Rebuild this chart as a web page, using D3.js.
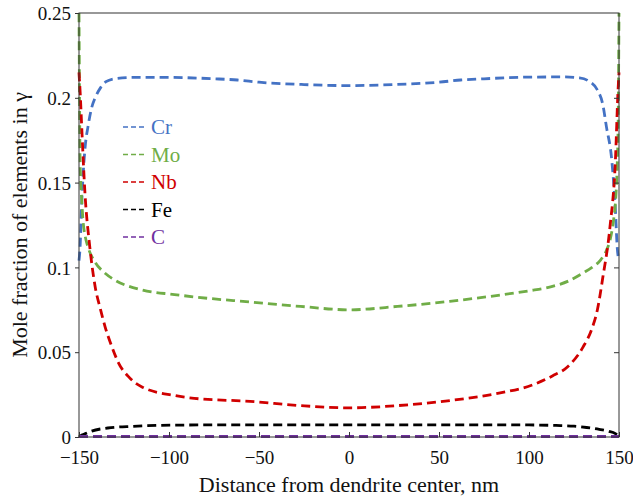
<!DOCTYPE html>
<html>
<head>
<meta charset="utf-8">
<script src="https://cdn.jsdelivr.net/npm/d3@7"></script>
<style>
  body { margin: 0; background: #fff; }
  text { font-family: "Liberation Serif", "Times New Roman", serif; }
</style>
</head>
<body>
<script>
// distance from dendrite center, nm
var crX = [-150, -149.4, -148.5, -147.8, -146.5, -145, -143, -141, -138, -135, -130, -120, -100, -75, -62, -50, -25, 0,
  25, 50, 62, 75, 100, 120, 128, 133, 138, 141, 143, 146, 148, 149, 150];
var crY = [0.104, 0.112, 0.138, 0.153, 0.172, 0.183, 0.194, 0.2, 0.206, 0.2095, 0.2113, 0.212, 0.212, 0.2112, 0.2105, 0.2092, 0.2078, 0.2072,
  0.2078, 0.2092, 0.2105, 0.2112, 0.2122, 0.2123, 0.2118, 0.210, 0.2046, 0.196, 0.183, 0.163, 0.134, 0.112, 0.104];

var moX = [-150, -149.7, -149.4, -148.5, -147.8, -146.5, -145, -141, -136, -130, -115, -97, -86, -55, -27, 0,
  27, 56, 84, 100, 112, 122, 130, 135, 139.5, 143, 145, 147, 148, 149, 149.5, 150];
var moY = [0.25, 0.2, 0.163, 0.14, 0.128, 0.118, 0.112, 0.103, 0.097, 0.0925, 0.0867, 0.084, 0.0826, 0.0796, 0.077, 0.075,
  0.077, 0.080, 0.0837, 0.0862, 0.0885, 0.092, 0.0967, 0.1, 0.104, 0.11, 0.116, 0.128, 0.138, 0.16, 0.183, 0.25];

var nbX = [-150, -149.3, -148.5, -146.7, -144, -141, -138, -135.5, -132, -128, -122, -115, -97, -86, -55, -27, 0,
  27, 56, 84, 102, 113, 121, 130, 135, 138, 141, 145, 148, 149.5, 150];
var nbY = [0.215, 0.202, 0.183, 0.144, 0.112, 0.0885, 0.075, 0.065, 0.054, 0.0436, 0.035, 0.0295, 0.0245, 0.0228, 0.021, 0.0185, 0.0172,
  0.0185, 0.0215, 0.026, 0.0307, 0.036, 0.041, 0.053, 0.064, 0.075, 0.094, 0.124, 0.163, 0.205, 0.215];

var feX = [-150, -149, -147, -143, -134, -120, -97, -50, 0, 50, 100, 115, 125, 132, 139, 144, 148, 150];
var feY = [0.0, 0.0008, 0.0017, 0.0035, 0.0053, 0.0063, 0.0070, 0.0072, 0.0072, 0.0072, 0.0071, 0.0068, 0.0064, 0.0056, 0.0045, 0.0034, 0.002, 0.0];

var cX = [-150, -100, -50, 0, 50, 100, 150];
var cY = [0.0003, 0.0003, 0.0003, 0.0003, 0.0003, 0.0003, 0.0003];

var seriesNames = ["Cr", "Mo", "Nb", "Fe", "C"];
var seriesColors = ["#4472c4", "#70ad47", "#d00000", "#000000", "#7030a0"];
var seriesXs = [crX, moX, nbX, feX, cX];
var seriesYs = [crY, moY, nbY, feY, cY];

var xTicks = [-150, -100, -50, 0, 50, 100, 150];
var yTicks = [0, 0.05, 0.1, 0.15, 0.2, 0.25];

var width = 633, height = 499;
var margin = { left: 79, right: 14, top: 13, bottom: 62 };

var svg = d3.select("body").append("svg")
  .attr("width", width)
  .attr("height", height);

var x = d3.scaleLinear().domain([-150, 150]).range([margin.left, width - margin.right]);
var y = d3.scaleLinear().domain([0, 0.25]).range([height - margin.bottom, margin.top]);

var line = d3.line()
  .x(function (d) { return x(d[0]); })
  .y(function (d) { return y(d[1]); })
  .curve(d3.curveMonotoneX);

// curves
seriesNames.forEach(function (name, i) {
  var pts = seriesXs[i].map(function (v, j) { return [v, seriesYs[i][j]]; });
  svg.append("path")
    .datum(pts)
    .attr("fill", "none")
    .attr("stroke", seriesColors[i])
    .attr("stroke-width", 2.8)
    .attr("stroke-dasharray", "9,5")
    .attr("d", line);
});

// frame
svg.append("rect")
  .attr("x", x(-150))
  .attr("y", y(0.25))
  .attr("width", x(150) - x(-150))
  .attr("height", y(0) - y(0.25))
  .attr("fill", "none")
  .attr("stroke", "#333")
  .attr("stroke-width", 1);

// bottom axis, ticks inward
var xAxis = svg.append("g")
  .attr("transform", "translate(0," + y(0) + ")")
  .call(d3.axisBottom(x).tickValues(xTicks).tickSizeInner(-5).tickSizeOuter(0).tickPadding(14)
    .tickFormat(d3.format("d")));
xAxis.select(".domain").remove();
xAxis.selectAll("line").attr("stroke", "#333");
xAxis.selectAll("text").attr("font-size", 19).attr("fill", "#111");

// left axis
var yAxis = svg.append("g")
  .attr("transform", "translate(" + x(-150) + ",0)")
  .call(d3.axisLeft(y).tickValues(yTicks).tickSizeInner(4).tickSizeOuter(0).tickPadding(4)
    .tickFormat(function (d) { return d === 0 ? "0" : d3.format("")(d); }));
yAxis.select(".domain").remove();
yAxis.selectAll("line").attr("stroke", "#333");
yAxis.selectAll("text").attr("font-size", 19).attr("fill", "#111").attr("dy", "0.35em");

// right axis, ticks inward
var rAxis = svg.append("g")
  .attr("transform", "translate(" + x(150) + ",0)")
  .call(d3.axisRight(y).tickValues(yTicks.slice(1, -1)).tickSizeInner(-5).tickSizeOuter(0).tickFormat(""));
rAxis.select(".domain").remove();
rAxis.selectAll("line").attr("stroke", "#333");

// axis titles
svg.append("text")
  .attr("x", x(0))
  .attr("y", 492)
  .attr("text-anchor", "middle")
  .attr("font-size", 22)
  .attr("fill", "#111")
  .text("Distance from dendrite center, nm");

svg.append("text")
  .attr("transform", "translate(27," + y(0.125) + ") rotate(-90)")
  .attr("text-anchor", "middle")
  .attr("font-size", 22)
  .attr("fill", "#111")
  .text("Mole fraction of elements in γ");

// legend
var legend = svg.append("g");
seriesNames.forEach(function (name, i) {
  var ly = 127 + i * 27.5;
  legend.append("line")
    .attr("x1", 123).attr("x2", 145)
    .attr("y1", ly).attr("y2", ly)
    .attr("stroke", seriesColors[i])
    .attr("stroke-width", 1.6)
    .attr("stroke-dasharray", "5,3");
  legend.append("text")
    .attr("x", 151)
    .attr("y", ly + 7)
    .attr("font-size", 21)
    .attr("fill", seriesColors[i])
    .text(name);
});
</script>
</body>
</html>
